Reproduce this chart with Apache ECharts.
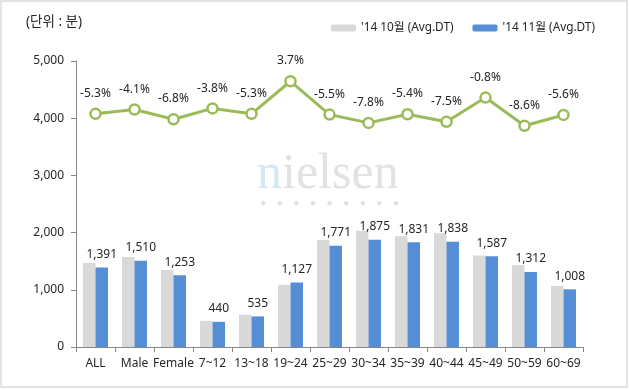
<!DOCTYPE html>
<html>
<head>
<meta charset="utf-8">
<script src="https://cdn.jsdelivr.net/npm/echarts@6/dist/echarts.min.js"></script>
<style>
html,body{margin:0;padding:0;background:#fff;}
#frame{position:absolute;left:0;top:0;width:628px;height:388px;box-sizing:border-box;border:2px solid #e3e3e3;}
#chart{position:absolute;left:0;top:0;width:630px;height:390px;}
</style>
</head>
<body>
<div id="frame"></div>
<div id="chart"></div>
<script>
const categories = ['ALL','Male','Female','7~12','13~18','19~24','25~29','30~34','35~39','40~44','45~49','50~59','60~69'];
const oct14 = [1469,1575,1344,457,565,1087,1874,2034,1936,1987,1600,1435,1068];
const nov14 = [1391,1510,1253,440,535,1127,1771,1875,1831,1838,1587,1312,1008];
const changePct = [-5.3,-4.1,-6.8,-3.8,-5.3,3.7,-5.5,-7.8,-5.4,-7.5,-0.8,-8.6,-5.6];
const seriesNames = ["'14 10월 (Avg.DT)", "'14 11월 (Avg.DT)"];
const yTicks = [0,1000,2000,3000,4000,5000];

const FONT = "'Noto Sans','Noto Sans CJK KR',sans-serif";
const TXT = '#262626';
const chart = echarts.init(document.getElementById('chart'), null, {renderer:'canvas'});
chart.setOption({
  animation:false,
  textStyle:{fontFamily:FONT},
  grid:{left:76,right:47,top:61,bottom:43,containLabel:false},
  legend:{
    top:17,left:326,itemWidth:25,itemHeight:7,itemGap:19,
    data:seriesNames,
    textStyle:{fontFamily:FONT,fontSize:11.8,color:TXT},
  },
  graphic:[
    {type:'text',left:26,top:15,style:{text:'(단위 : 분)',font:"13.5px "+FONT,fill:TXT}},
    {type:'text',left:257,top:150,z:-1,style:{rich:{a:{fontFamily:"'Liberation Serif','DejaVu Serif',serif",fontSize:50,fill:'#d3e8f2'},b:{fontFamily:"'Liberation Serif','DejaVu Serif',serif",fontSize:50,fill:'#e2e2e2'}},text:'{a|n}{b|ielsen}'}},
    {type:'group',left:261,top:201,z:-1,children:[0,1,2,3,4,5,6,7,8].map(i=>({type:'circle',shape:{cx:i*16.6+2,cy:2,r:2.2},style:{fill:'#e0e0e0'}}))}
  ],
  xAxis:{
    type:'category',data:categories,
    axisLine:{lineStyle:{color:'#868686',width:1}},
    axisTick:{show:true,length:5,lineStyle:{color:'#868686'}},
    axisLabel:{color:TXT,fontSize:12,margin:11,interval:0,fontFamily:FONT}
  },
  yAxis:[
    {type:'value',min:0,max:5000,interval:1000,
     axisLine:{show:true,lineStyle:{color:'#868686'}},
     axisTick:{show:true,length:5,lineStyle:{color:'#868686'}},
     splitLine:{show:false},
     axisLabel:{color:TXT,fontSize:12,margin:12,fontFamily:FONT,
       formatter:v=>yTicks.includes(v)?v.toLocaleString('en-US'):''}},
    {type:'value',min:-69.7,max:9.3,show:false,splitLine:{show:false}}
  ],
  series:[
    {name:seriesNames[0],type:'bar',data:oct14,itemStyle:{color:'#d9d9d9'},barGap:'0%',barCategoryGap:'36%'},
    {name:seriesNames[1],type:'bar',data:nov14,itemStyle:{color:'#558ed5'},
     label:{show:true,position:'top',distance:7,color:TXT,fontSize:12,fontFamily:FONT,formatter:p=>p.value.toLocaleString('en-US')}},
    {name:'change',type:'line',yAxisIndex:1,data:changePct,
     lineStyle:{color:'#9bbb59',width:3},itemStyle:{color:'#fff',borderColor:'#9bbb59',borderWidth:2.5},
     symbol:'circle',symbolSize:10,
     label:{show:true,position:'top',distance:8,color:TXT,fontSize:12,fontFamily:FONT,formatter:p=>p.value.toFixed(1)+'%'}}
  ]
});
</script>
</body>
</html>
